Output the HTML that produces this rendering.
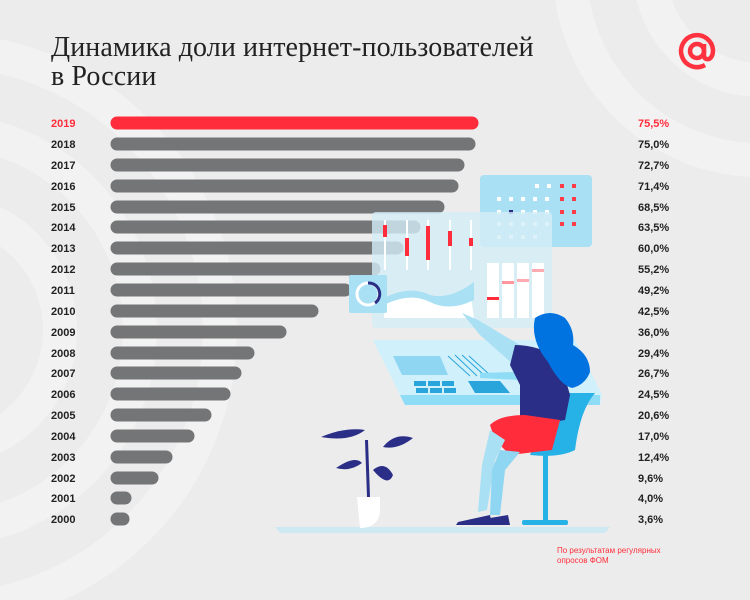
<!DOCTYPE html>
<html><head><meta charset="utf-8"><style>
body{margin:0;width:750px;height:600px;background:#ececec;overflow:hidden;position:relative;font-family:"Liberation Sans",sans-serif}
svg{position:absolute;left:0;top:0}
.t{position:absolute;left:51px;top:33px;font-family:"Liberation Serif",serif;font-size:28px;line-height:29px;color:#222;letter-spacing:0.1px}
</style></head><body>
<svg width="750" height="600" viewBox="0 0 750 600">
<g fill="none" stroke="#f2f2f2" stroke-width="34">
<circle cx="-60" cy="330" r="120"/><circle cx="-60" cy="330" r="200"/><circle cx="-60" cy="330" r="280"/>
<circle cx="-60" cy="330" r="40" fill="#f2f2f2"/>
<circle cx="760" cy="-30" r="110"/><circle cx="760" cy="-30" r="190"/>
</g>
<g fill="none" stroke="#ff333f" stroke-width="4.5">
<circle cx="697" cy="51" r="7"/>
<path d="M704 44 V55 Q704 60 709 59 Q713 57 713 50 A16 16 0 1 0 705 65"/>
</g>
<g stroke-linecap="round" stroke-width="13">
<line x1="117" y1="123" x2="472" y2="123" stroke="#ff2d3b"/>
<g stroke="#737577">
<line x1="117" y1="144" x2="469" y2="144"/>
<line x1="117" y1="165" x2="458" y2="165"/>
<line x1="117" y1="186" x2="452" y2="186"/>
<line x1="117" y1="207" x2="438" y2="207"/>
<line x1="117" y1="227" x2="414" y2="227"/>
<line x1="117" y1="248" x2="397" y2="248"/>
<line x1="117" y1="269" x2="374" y2="269"/>
<line x1="117" y1="290" x2="345" y2="290"/>
<line x1="117" y1="311" x2="312" y2="311"/>
<line x1="117" y1="332" x2="280" y2="332"/>
<line x1="117" y1="353" x2="248" y2="353"/>
<line x1="117" y1="373" x2="235" y2="373"/>
<line x1="117" y1="394" x2="224" y2="394"/>
<line x1="117" y1="415" x2="205" y2="415"/>
<line x1="117" y1="436" x2="188" y2="436"/>
<line x1="117" y1="457" x2="166" y2="457"/>
<line x1="117" y1="478" x2="152" y2="478"/>
<line x1="117" y1="498" x2="125" y2="498"/>
<line x1="117" y1="519" x2="123" y2="519"/>
</g></g>
<g font-family="Liberation Sans" font-weight="bold" font-size="11" fill="#222">
<text x="51" y="127" fill="#ff2d3b">2019</text><text x="51" y="148">2018</text><text x="51" y="169">2017</text><text x="51" y="190">2016</text><text x="51" y="211">2015</text><text x="51" y="231">2014</text><text x="51" y="252">2013</text><text x="51" y="273">2012</text><text x="51" y="294">2011</text><text x="51" y="315">2010</text><text x="51" y="336">2009</text><text x="51" y="357">2008</text><text x="51" y="377">2007</text><text x="51" y="398">2006</text><text x="51" y="419">2005</text><text x="51" y="440">2004</text><text x="51" y="461">2003</text><text x="51" y="482">2002</text><text x="51" y="502">2001</text><text x="51" y="523">2000</text>
<text x="638" y="127" fill="#ff2d3b">75,5%</text><text x="638" y="148">75,0%</text><text x="638" y="169">72,7%</text><text x="638" y="190">71,4%</text><text x="638" y="211">68,5%</text><text x="638" y="231">63,5%</text><text x="638" y="252">60,0%</text><text x="638" y="273">55,2%</text><text x="638" y="294">49,2%</text><text x="638" y="315">42,5%</text><text x="638" y="336">36,0%</text><text x="638" y="357">29,4%</text><text x="638" y="377">26,7%</text><text x="638" y="398">24,5%</text><text x="638" y="419">20,6%</text><text x="638" y="440">17,0%</text><text x="638" y="461">12,4%</text><text x="638" y="482">9,6%</text><text x="638" y="502">4,0%</text><text x="638" y="523">3,6%</text>
</g>
<g font-family="Liberation Sans" font-size="8" fill="#ff2d3b"><text x="557" y="553">По результатам регулярных</text><text x="557" y="563">опросов ФОМ</text></g>
<path d="M275 527 H610 L605 533 H280 Z" fill="#cfe9f3"/>
<rect x="480" y="175" width="112" height="72" rx="4" fill="#a9e0f4"/>
<g fill="#fff"><rect x="535" y="184" width="4" height="4"/><rect x="547" y="184" width="4" height="4"/><rect x="497" y="197" width="4" height="4"/><rect x="509" y="197" width="4" height="4"/><rect x="521" y="197" width="4" height="4"/><rect x="533" y="197" width="4" height="4"/><rect x="545" y="197" width="4" height="4"/><rect x="521" y="210" width="4" height="4"/><rect x="533" y="210" width="4" height="4"/><rect x="545" y="210" width="4" height="4"/><rect x="497" y="222" width="4" height="4"/><rect x="509" y="222" width="4" height="4"/><rect x="521" y="222" width="4" height="4"/><rect x="533" y="222" width="4" height="4"/><rect x="545" y="222" width="4" height="4"/><rect x="497" y="235" width="4" height="4"/><rect x="509" y="235" width="4" height="4"/><rect x="521" y="235" width="4" height="4"/><rect x="533" y="235" width="4" height="4"/><rect x="497" y="210" width="4" height="4"/></g>
<rect x="509" y="210" width="4" height="4" fill="#2b2e86"/>
<g fill="#ff3b47"><rect x="560" y="184" width="4" height="4"/><rect x="572" y="184" width="4" height="4"/><rect x="560" y="197" width="4" height="4"/><rect x="572" y="197" width="4" height="4"/><rect x="560" y="210" width="4" height="4"/><rect x="572" y="210" width="4" height="4"/><rect x="560" y="222" width="4" height="4"/><rect x="572" y="222" width="4" height="4"/></g>
<rect x="372" y="212" width="180" height="116" rx="4" fill="#d5eef8" opacity="0.8"/>
<g stroke="#fff" stroke-width="2"><line x1="385" y1="220" x2="385" y2="270"/><line x1="407" y1="220" x2="407" y2="270"/><line x1="428" y1="220" x2="428" y2="270"/><line x1="450" y1="220" x2="450" y2="270"/><line x1="471" y1="220" x2="471" y2="270"/></g>
<g fill="#ff2d3b"><rect x="383" y="225" width="4" height="12"/><rect x="405" y="238" width="4" height="18"/><rect x="426" y="226" width="4" height="34"/><rect x="448" y="231" width="4" height="15"/><rect x="469" y="238" width="4" height="8"/></g>
<path d="M384 300 Q410 282 430 300 Q450 312 470 290 L474 318 H384 Z" fill="#fff"/>
<path d="M384 298 Q410 285 430 295 Q450 300 474 282 L474 300 Q450 312 430 302 Q410 292 384 305 Z" fill="#a9e0f4"/>
<g fill="#fff"><rect x="487" y="263" width="12" height="55"/><rect x="502" y="263" width="12" height="55"/><rect x="517" y="263" width="12" height="55"/><rect x="532" y="263" width="12" height="55"/></g>
<g fill="#ff2d3b"><rect x="487" y="297" width="12" height="3"/><rect x="502" y="281" width="12" height="3" opacity="0.5"/><rect x="517" y="279" width="12" height="3" opacity="0.4"/><rect x="532" y="269" width="12" height="3" opacity="0.4"/></g>
<rect x="349" y="275" width="38" height="38" rx="2" fill="#a9e0f4"/>
<circle cx="368" cy="294" r="11" fill="none" stroke="#fff" stroke-width="3"/>
<path d="M368 283 A11 11 0 0 1 375 303" fill="none" stroke="#2b2e86" stroke-width="3"/>
<path d="M373 340 H575 L602 395 L600 405 H405 Z" fill="#d0f0fc"/>
<path d="M400 395 H600 V405 H405 Z" fill="#8fdcf6"/>
<path d="M393 356 H440 L448 375 H402 Z" fill="#8fd6f3"/>
<path d="M468 381 H500 L510 393 H475 Z" fill="#2aa5dc"/>
<g fill="#2aa5dc"><rect x="414" y="381" width="12" height="5"/><rect x="428" y="381" width="12" height="5"/><rect x="442" y="381" width="12" height="5"/><rect x="416" y="388" width="12" height="5"/><rect x="430" y="388" width="12" height="5"/><rect x="444" y="388" width="12" height="5"/></g>
<g stroke="#2aa5dc" stroke-width="1"><line x1="448" y1="356" x2="470" y2="376"/><line x1="455" y1="355" x2="477" y2="376"/><line x1="462" y1="355" x2="484" y2="375"/><line x1="469" y1="356" x2="490" y2="375"/></g>
<path d="M564 393 H595 Q580 410 575 450 Q560 458 530 455 L545 420 Z" fill="#26b2e6"/>
<rect x="543" y="455" width="5" height="68" fill="#26b2e6"/>
<rect x="522" y="520" width="46" height="5" rx="2" fill="#26b2e6"/>
<path d="M462 313 L478 320 L520 345 L530 360 L515 366 L480 335 Z" fill="#a9e0f4"/>
<path d="M480 373 L515 372 L520 380 L480 378 Z" fill="#8fdcf6"/>
<path d="M515 345 Q540 345 560 360 L570 395 L565 420 L520 428 L520 385 L510 365 Z" fill="#2b2e86"/>
<path d="M535 318 Q550 308 565 318 Q575 330 573 345 Q590 355 590 372 Q585 385 572 388 Q560 385 548 362 Q530 340 535 318 Z" fill="#0073e0"/>
<path d="M490 425 Q500 415 525 415 L560 420 L552 450 L510 455 L495 440 Z" fill="#ff2d3b"/>
<path d="M490 430 L505 440 L495 460 L487 510 L478 512 L482 465 Z" fill="#a9e0f4"/>
<path d="M500 450 L520 452 L505 470 L500 515 L490 515 L492 470 Z" fill="#8fd6f3"/>
<path d="M458 522 L490 515 L492 525 H456 Z M490 518 L508 515 L510 525 H487 Z" fill="#2b2e86"/>
<path d="M357 497 H380 V512 Q378 528 360 528 Z" fill="#fff"/>
<g fill="#2b2e86">
<path d="M321 437 Q345 427 365 430 Q350 442 321 437 Z"/>
<path d="M383 447 Q395 432 413 438 Q398 450 383 447 Z"/>
<path d="M336 468 Q355 455 362 463 Q350 472 336 468 Z"/>
<path d="M373 470 Q385 460 393 475 Q388 488 373 470 Z"/>
<path d="M367 497 L365 440 L368 440 L370 497 Z"/>
</g>
</svg>
<div class="t">Динамика доли интернет-пользователей<br>в России</div>
</body></html>
